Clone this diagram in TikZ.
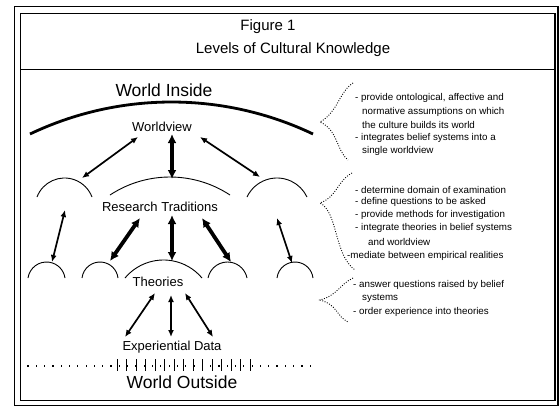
\documentclass[tikz,border=0pt]{standalone}
\usepackage{fontspec}
\setmainfont{Liberation Sans}
\usetikzlibrary{arrows.meta}
\tikzset{
  frameline/.style={line width=1.1pt},
  bigarc/.style={line width=2.8pt},
  smallarc/.style={line width=0.9pt},
  thinarrow/.style={line width=1.7pt, {Latex[length=7pt,width=6pt]}-{Latex[length=7pt,width=6pt]}},
  thickarrow/.style={line width=3.8pt, {Latex[length=9pt,width=9pt]}-{Latex[length=9pt,width=9pt]}},
  lbl/.style={font=\fontsize{13}{15}\selectfont, inner sep=0pt},
  biglbl/.style={font=\fontsize{17.5}{20}\selectfont, inner sep=0pt},
  ttl/.style={font=\fontsize{15}{17}\selectfont, inner sep=0pt},
  note/.style={font=\fontsize{9.8}{11}\selectfont, inner sep=0pt, anchor=west},
  brace/.style={line width=0.9pt, dash pattern=on 0.9pt off 1.6pt},
}
\newcommand\caparc[5]{%
  \pgfmathsetmacro\cch{(#3-#2)/2}%
  \pgfmathsetmacro\rrad{(\cch/(2*#5))*\cch+#5/2}%
  \pgfmathsetmacro\aang{atan2(\rrad-#5,-\cch)}%
  \draw[#1] (#2,-#4) arc[start angle=\aang, end angle=180-\aang, radius=\rrad];}
\begin{document}
\begin{tikzpicture}[x=1pt,y=1pt]
\useasboundingbox (0,0) rectangle (559,-408);
% frame
\draw[frameline] (14.5,-6.5) rectangle (558,-405.5);
\draw[frameline] (20.5,-13.5) rectangle (555,-400.5);
\draw[frameline] (20.5,-69.5) -- (555,-69.5);
% title
\node[ttl] (fig) at (268,-27) {Figure 1};
\node[ttl] (lev) at (293,-50) {Levels of Cultural Knowledge};
% labels
\node[biglbl] (win) at (164,-90) {World Inside};
\node[lbl] (wv) at (162,-127) {Worldview};
\node[lbl] (rt) at (160,-207) {Research Traditions};
\node[lbl] (th) at (158,-282) {Theories};
\node[lbl] (ed) at (172,-347) {Experiential Data};
% arcs
\caparc{bigarc}{30}{313}{134}{32}
\caparc{smallarc}{37}{92}{197}{19}
\caparc{smallarc}{110}{230}{195}{18}
\caparc{smallarc}{247}{307}{197}{19}
\caparc{smallarc}{28}{65}{278}{16}
\caparc{smallarc}{82}{118}{278}{16}
\caparc{smallarc}{125}{202}{278}{18}
\caparc{smallarc}{208}{247}{278}{16}
\caparc{smallarc}{277}{313}{278}{16}
% arrow end points
\coordinate (w1a) at (138,-137); \coordinate (w1b) at (82,-178);
\coordinate (w2a) at (172,-134); \coordinate (w2b) at (172,-179);
\coordinate (w3a) at (200,-137); \coordinate (w3b) at (260,-177);
\coordinate (r1a) at (65,-210);  \coordinate (r1b) at (52,-262);
\coordinate (r2a) at (140,-218); \coordinate (r2b) at (110,-261);
\coordinate (r3a) at (172,-215); \coordinate (r3b) at (172,-261);
\coordinate (r4a) at (202,-218); \coordinate (r4b) at (231,-262);
\coordinate (r5a) at (277,-218); \coordinate (r5b) at (292,-263);
\coordinate (t1a) at (155,-293); \coordinate (t1b) at (125,-337);
\coordinate (t2a) at (171,-295); \coordinate (t2b) at (171,-337);
\coordinate (t3a) at (185,-293); \coordinate (t3b) at (213,-337);
\draw[thinarrow] (w1a) -- (w1b);
\draw[thickarrow] (w2a) -- (w2b);
\draw[thinarrow] (w3a) -- (w3b);
\draw[thinarrow] (r1a) -- (r1b);
\draw[thickarrow] (r2a) -- (r2b);
\draw[thickarrow] (r3a) -- (r3b);
\draw[thickarrow] (r4a) -- (r4b);
\draw[thinarrow] (r5a) -- (r5b);
\draw[thinarrow] (t1a) -- (t1b);
\draw[thinarrow] (t2a) -- (t2b);
\draw[thinarrow] (t3a) -- (t3b);
% world outside line
\foreach \k in {0,...,34} \fill ({28+8.3*\k-0.6},-364.8) rectangle ++(1.2,-2.2);
\foreach \k in {0,...,14} \draw[line width=0.9pt] ({117+9.5*\k},-359) -- ++(0,-12);
\node[biglbl] (wout) at (182,-382) {World Outside};
% braces
\draw[brace] (353,-83) .. controls (339,-92) and (338,-112) .. (320,-122)
  .. controls (338,-130) and (336,-150) .. (348,-160);
\draw[brace] (352,-173) .. controls (336,-182) and (338,-196) .. (320,-203)
  .. controls (338,-212) and (334,-255) .. (355,-270);
\draw[brace] (353,-278) .. controls (340,-284) and (338,-295) .. (320,-300)
  .. controls (338,-305) and (336,-316) .. (348,-322);
% notes
\node[note] (n11) at (355,-98) {- provide ontological, affective and};
\node[note] (n12) at (362,-112) {normative assumptions on which};
\node[note] (n13) at (362,-125) {the culture builds its world};
\node[note] (n14) at (355,-138) {- integrates belief systems into a};
\node[note] (n15) at (362,-151) {single worldview};
\node[note] (n21) at (355,-190) {- determine domain of examination};
\node[note] (n22) at (355,-202) {- define questions to be asked};
\node[note] (n23) at (355,-215) {- provide methods for investigation};
\node[note] (n24) at (355,-228) {- integrate theories in belief systems};
\node[note] (n25) at (368,-242) {and worldview};
\node[note] (n26) at (347,-256) {-mediate between empirical realities};
\node[note] (n31) at (353,-285) {- answer questions raised by belief};
\node[note] (n32) at (362,-298) {systems};
\node[note] (n33) at (353,-312) {- order experience into theories};
\end{tikzpicture}
\end{document}
